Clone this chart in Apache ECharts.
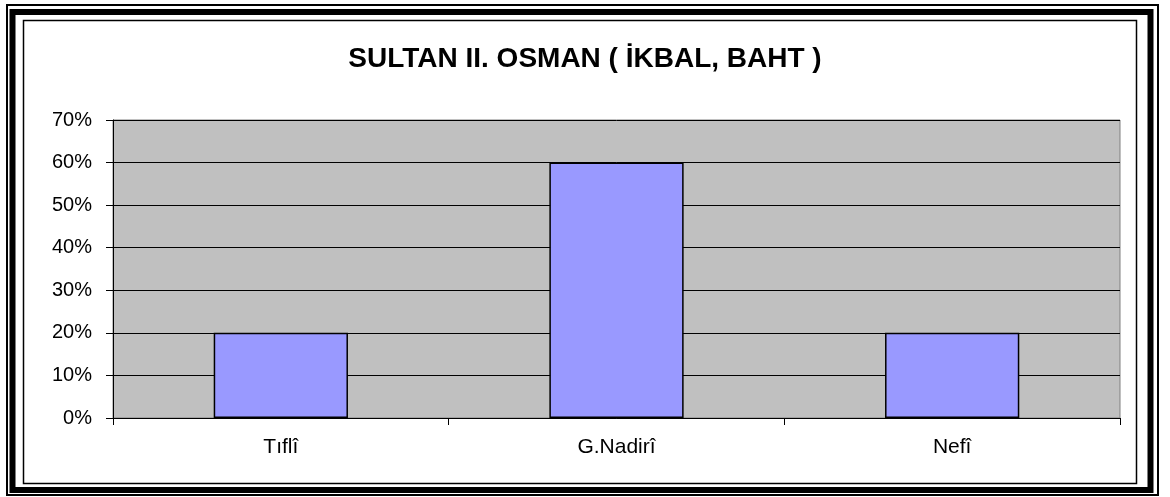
<!DOCTYPE html>
<html>
<head>
<meta charset="utf-8">
<script src="https://cdn.jsdelivr.net/npm/echarts@6/dist/echarts.min.js"></script>
<style>
  html, body { margin: 0; padding: 0; background: #fff; }
  #J_Chart { width: 1170px; height: 497px; }
</style>
</head>
<body>
<div id="J_Chart"></div>
<script>
'use strict';
const FONT = '"Liberation Sans", Arial, sans-serif';

const title = 'SULTAN II. OSMAN ( İKBAL, BAHT )';
const categories = ['Tıflî', 'G.Nadirî', 'Nefî'];
const shares = [20, 60, 20];
const yMax = 70;
const yStep = 10;

const chartDom = document.getElementById('J_Chart');
const myChart = echarts.init(chartDom);

const option = {
  backgroundColor: '#fff',
  animation: false,
  title: {
    text: title,
    left: 'center',
    top: 40,
    textStyle: {
      fontFamily: FONT,
      fontSize: 28,
      fontWeight: 'bold',
      color: '#000',
    },
  },
  // double frame around the whole picture
  graphic: [
    {
      type: 'rect',
      shape: { x: 7, y: 5, width: 1151, height: 490 },
      style: { fill: 'none', stroke: '#000', lineWidth: 2 },
    },
    {
      type: 'rect',
      shape: { x: 12.5, y: 12, width: 1138, height: 478 },
      style: { fill: 'none', stroke: '#000', lineWidth: 6 },
    },
    {
      type: 'rect',
      shape: { x: 23.5, y: 20.5, width: 1113, height: 463 },
      style: { fill: 'none', stroke: '#000', lineWidth: 1.5 },
    },
  ],
  grid: {
    left: 113,
    right: 50,
    top: 120,
    bottom: 79,
    show: true,
    backgroundColor: '#C0C0C0',
    borderColor: '#808080',
    borderWidth: 1,
  },
  xAxis: {
    type: 'category',
    data: categories,
    axisLine: { show: true, lineStyle: { color: '#000', width: 1 } },
    axisTick: { show: true, length: 7, lineStyle: { color: '#000' } },
    axisLabel: {
      margin: 19,
      fontFamily: FONT,
      fontSize: 21,
      color: '#000',
    },
  },
  yAxis: {
    type: 'value',
    min: 0,
    max: yMax,
    interval: yStep,
    axisLine: { show: true, lineStyle: { color: '#000', width: 1 } },
    axisTick: { show: true, length: 7, lineStyle: { color: '#000' } },
    splitLine: { show: true, lineStyle: { color: '#000', width: 1 } },
    axisLabel: {
      margin: 21,
      formatter: '{value}%',
      fontFamily: FONT,
      fontSize: 20,
      color: '#000',
    },
  },
  series: [
    {
      type: 'bar',
      data: shares,
      barCategoryGap: '60%',
      itemStyle: {
        color: '#9999FF',
        borderColor: '#000',
        borderWidth: 1.5,
      },
    },
  ],
};

myChart.setOption(option);
</script>
</body>
</html>
